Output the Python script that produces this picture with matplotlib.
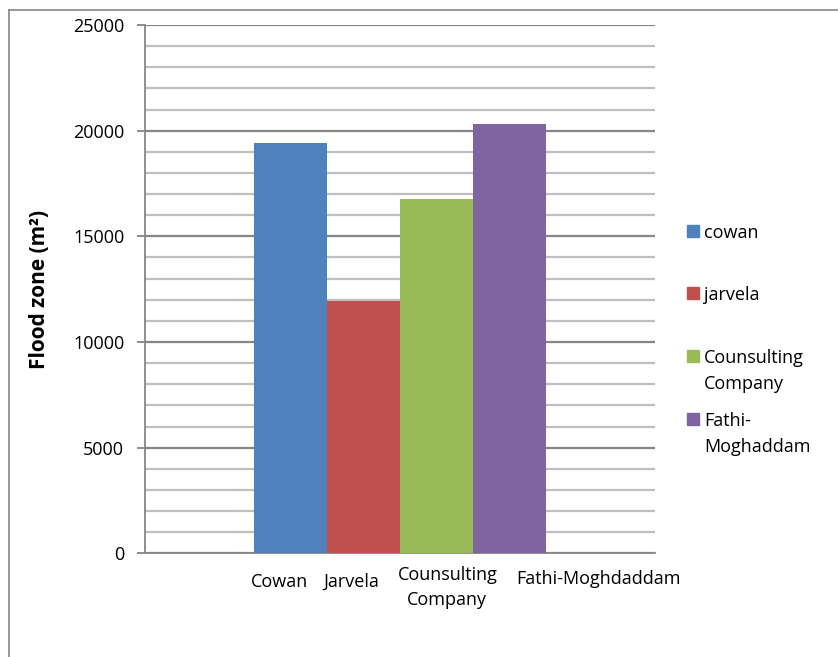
import matplotlib
matplotlib.use("Agg")
import matplotlib.pyplot as plt
from matplotlib.lines import Line2D
from matplotlib.patches import Rectangle
from matplotlib.ticker import MultipleLocator
from matplotlib.transforms import ScaledTranslation

plt.rcParams['font.family'] = ['Open Sans', 'DejaVu Sans']

# data
series = ["cowan", "jarvela", "Counsulting\nCompany", "Fathi-\nMoghaddam"]
values = [19420, 11950, 16770, 20320]
colors = ["#4F81BD", "#C0504D", "#9BBB59", "#8064A2"]
bar_pos = [2, 3, 4, 5]
cat_labels = ["Cowan", "Jarvela", "Counsulting\nCompany", "Fathi-Moghdaddam"]
cat_pos = [1.84, 2.83, 4.15, 6.22]
cat_drop = [7, 7, 0, 4]  # px, labels in the original sit at uneven heights

W, H = 838, 657
fig = plt.figure(figsize=(W / 100, H / 100), dpi=100)
ax = fig.add_axes([145 / W, 1 - 553.3 / H, 510 / W, 528.3 / H])

ax.bar(bar_pos, values, width=1.0, color=colors, zorder=3)

ax.set_xlim(0, 7)
ax.set_ylim(0, 25000)
ax.yaxis.set_major_locator(MultipleLocator(5000))
ax.yaxis.set_minor_locator(MultipleLocator(1000))
ax.grid(which="minor", axis="y", color="#BFBFBF", lw=1.6, zorder=1)
ax.grid(which="major", axis="y", color="#868686", lw=1.6, zorder=2)
ax.tick_params(axis="y", which="major", length=6, width=1.3, color="#868686",
               labelsize=13, pad=9)
ax.tick_params(axis="y", which="minor", length=0)

ax.set_xticks(cat_pos)
ax.set_xticklabels(cat_labels, fontsize=13, linespacing=1.5)
ax.tick_params(axis="x", length=0, pad=9)
for lbl, d in zip(ax.get_xticklabels(), cat_drop):
    lbl.set_transform(lbl.get_transform() + ScaledTranslation(0, -d / 100, fig.dpi_scale_trans))

for s in ["top", "right"]:
    ax.spines[s].set_visible(False)
for s in ["left", "bottom"]:
    ax.spines[s].set_color("#868686")
    ax.spines[s].set_linewidth(1.3)

ax.set_ylabel("Flood zone (m²)", fontsize=15, fontweight="bold")
ax.yaxis.set_label_coords((50 - 145) / 510, 0.5)

# legend drawn by hand to keep Excel-style top alignment
leg_y = [231, 293, 356, 419]
for lab, col, y in zip(series, colors, leg_y):
    fig.patches.append(Rectangle((687 / W, 1 - (y + 6) / H), 12 / W, 12 / H,
                                 transform=fig.transFigure, color=col))
    fig.text(704 / W, 1 - (y - 7) / H, lab, fontsize=13, va="top", ha="left",
             linespacing=1.55)

# chart border
fig.add_artist(Line2D([9 / W, 1], [1 - 10 / H, 1 - 10 / H], color="#868686", lw=1.2))
fig.add_artist(Line2D([9 / W, 9 / W], [1 - 10 / H, 0], color="#868686", lw=1.2))

fig.savefig("out.png", dpi=100)
